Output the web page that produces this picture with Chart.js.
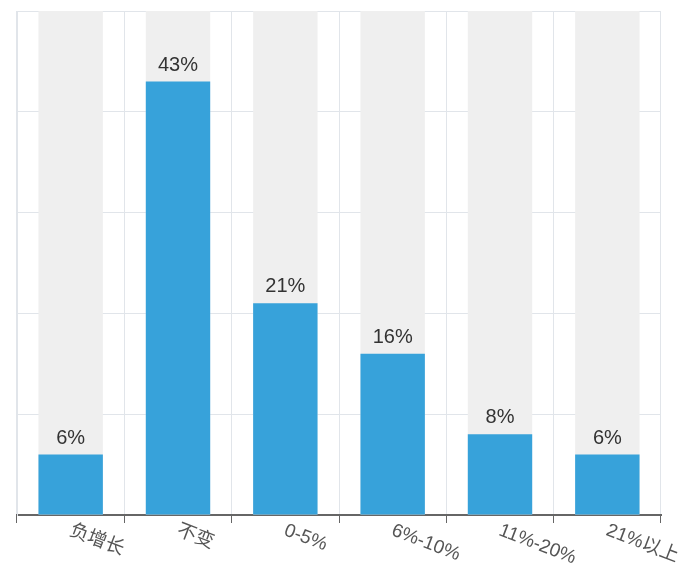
<!DOCTYPE html>
<html>
    <head>
        <title>增长预期</title>
        <meta charset="utf-8">
        <style>
            html, body { margin: 0; padding: 0; background: #fff; }
            .chart-container { position: relative; width: 700px; height: 569px; }
        </style>
    </head>
    <body>
        <div class="chart-container">
            <canvas id="myChart"></canvas>
        </div>
        <script src="https://cdn.jsdelivr.net/npm/chart.js@4.4.0/dist/chart.umd.min.js"></script>
        <script>
            // data
            var categories = ['负增长', '不变', '0-5%', '6%-10%', '11%-20%', '21%以上'];
            var shares = [6, 43, 21, 16, 8, 6];
            var yMax = 50;
            var yStep = 10;
            var track = categories.map(function() { return yMax; }); // gray full-height columns

            var blue = '#37a2da';
            var gridColor = '#e1e5ea';

            // value labels above the bars and slanted category labels
            var labelPlugin = {
                id: 'labels',
                afterDatasetsDraw: function(chart) {
                    var ctx = chart.ctx;
                    var meta = chart.getDatasetMeta(0);
                    ctx.save();
                    ctx.fillStyle = '#333';
                    ctx.font = '20px "Liberation Sans", Arial, sans-serif';
                    ctx.textAlign = 'center';
                    ctx.textBaseline = 'alphabetic';
                    meta.data.forEach(function(bar, i) {
                        ctx.fillText(shares[i] + '%', bar.x, bar.y - 11);
                    });

                    var xs = chart.scales.x;
                    ctx.fillStyle = '#555';
                    ctx.font = '19px "Liberation Sans", "Noto Sans CJK SC", sans-serif';
                    ctx.textAlign = 'left';
                    ctx.textBaseline = 'top';
                    categories.forEach(function(c, i) {
                        ctx.save();
                        ctx.translate(xs.getPixelForTick(i) + 3, xs.top + 6);
                        ctx.rotate(21 * Math.PI / 180);
                        ctx.fillText(c, 0, 0);
                        ctx.restore();
                    });
                    ctx.restore();
                }
            };

            var ctx = document.getElementById('myChart').getContext('2d');
            var chart = new Chart(ctx, {
                type: 'bar',
                data: {
                    labels: categories,
                    datasets: [
                        {label: '占比',
                         data: shares,
                         backgroundColor: blue,
                         borderWidth: 0},
                        {label: 'track',
                         data: track,
                         backgroundColor: '#efefef',
                         borderWidth: 0}
                    ]
                },
                plugins: [labelPlugin],
                options: {
                    responsive: true,
                    maintainAspectRatio: false,
                    animation: false,
                    layout: {
                        padding: {left: 17, right: 39, top: 11, bottom: 46}
                    },
                    datasets: {
                        bar: {
                            grouped: false,
                            barPercentage: 0.6,
                            categoryPercentage: 1.0
                        }
                    },
                    plugins: {
                        legend: {display: false},
                        tooltip: {enabled: false}
                    },
                    scales: {
                        x: {
                            grid: {
                                color: gridColor,
                                tickColor: '#666',
                                tickLength: 8,
                                offset: true
                            },
                            border: {color: '#666', width: 2},
                            ticks: {display: false}
                        },
                        y: {
                            min: 0,
                            max: yMax,
                            ticks: {display: false, stepSize: yStep},
                            grid: {color: gridColor, drawTicks: false},
                            border: {color: gridColor}
                        }
                    }
                }
            });
        </script>
    </body>
</html>
